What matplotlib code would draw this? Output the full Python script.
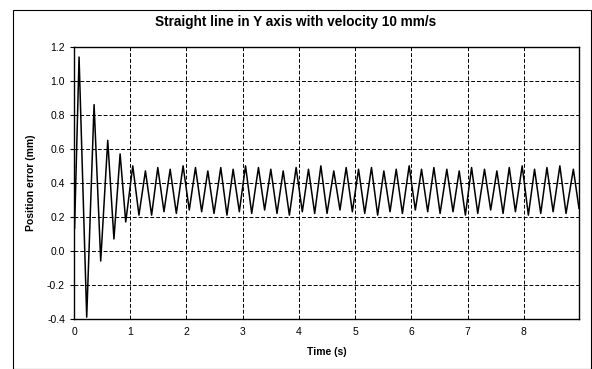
import matplotlib.pyplot as plt
from matplotlib.patches import Rectangle

plt.rcParams['font.family'] = ['Liberation Sans', 'DejaVu Sans']

# transient part of the position error
t_start = [0.0, 0.01, 0.09, 0.226, 0.357, 0.475, 0.60, 0.71, 0.82, 0.92]
e_start = [0.42, 0.13, 1.14, -0.39, 0.86, -0.06, 0.65, 0.07, 0.57, 0.17]

# steady oscillation: peaks and troughs
t_peak = [1.045, 1.27, 1.49, 1.71, 1.94, 2.16, 2.38, 2.61, 2.83, 3.05, 3.28, 3.50,
          3.72, 3.95, 4.17, 4.39, 4.62, 4.84, 5.06, 5.29, 5.51, 5.73, 5.96, 6.18,
          6.40, 6.63, 6.85, 7.07, 7.30, 7.52, 7.74, 7.97, 8.19, 8.41, 8.64, 8.88]
e_peak = [0.50, 0.47, 0.49, 0.48, 0.50, 0.49, 0.47, 0.49, 0.48, 0.50, 0.49, 0.48,
          0.47, 0.49, 0.48, 0.50, 0.47, 0.49, 0.48, 0.49, 0.47, 0.48, 0.50, 0.48,
          0.49, 0.48, 0.47, 0.49, 0.48, 0.47, 0.49, 0.50, 0.48, 0.49, 0.50, 0.48]
t_trough = [1.155, 1.38, 1.60, 1.82, 2.05, 2.27, 2.49, 2.72, 2.94, 3.16, 3.39, 3.61,
            3.83, 4.06, 4.28, 4.50, 4.73, 4.95, 5.17, 5.40, 5.62, 5.84, 6.07, 6.29,
            6.51, 6.74, 6.96, 7.18, 7.41, 7.63, 7.85, 8.08, 8.30, 8.52, 8.75, 8.98]
e_trough = [0.21, 0.21, 0.23, 0.22, 0.24, 0.23, 0.22, 0.21, 0.23, 0.22, 0.24, 0.22,
            0.21, 0.23, 0.22, 0.22, 0.24, 0.23, 0.22, 0.21, 0.23, 0.22, 0.24, 0.23,
            0.22, 0.23, 0.21, 0.22, 0.24, 0.22, 0.23, 0.21, 0.22, 0.23, 0.22, 0.25]

x_ticks = [0, 1, 2, 3, 4, 5, 6, 7, 8]
y_ticks = [-0.4, -0.2, 0.0, 0.2, 0.4, 0.6, 0.8, 1.0, 1.2]

# join the pieces into one trace
t = list(t_start)
e = list(e_start)
for tp, ep, tt, et in zip(t_peak, e_peak, t_trough, e_trough):
    t += [tp, tt]
    e += [ep, et]

fig = plt.figure(figsize=(5.92, 3.69), dpi=100)
ax = fig.add_axes([0.125, 0.136, 0.853, 0.737])

ax.plot(t, e, color='black', lw=1.1)

ax.set_xlim(0, 8.98)
ax.set_ylim(-0.4, 1.2)
ax.set_xticks(x_ticks)
ax.set_yticks(y_ticks)
ax.set_yticklabels(['%.1f' % v for v in y_ticks])
ax.grid(True, color='black', lw=0.7, linestyle=(0, (4, 2)))
ax.tick_params(axis='both', labelsize=7.5, length=3, width=0.8)
ax.tick_params(axis='x', length=0, pad=6)
for s in ax.spines.values():
    s.set_linewidth(1.0)
    s.set_color('black')

fig.text(0.5, 1 - 22 / 369, 'Straight line in Y axis with velocity 10 mm/s',
         fontsize=9.8, fontweight='bold', ha='center', va='center')
ax.set_xlabel('Time (s)', fontsize=7.5, fontweight='bold', labelpad=7)
ax.set_ylabel('Position error (mm)', fontsize=7.5, fontweight='bold', labelpad=8)

# outer chart frame
fig.patches.append(Rectangle((13 / 592, 0.0), 578 / 592, 1 - 10 / 369,
                             transform=fig.transFigure, fill=False,
                             edgecolor='black', lw=0.8))

plt.savefig('out.png', dpi=100)
